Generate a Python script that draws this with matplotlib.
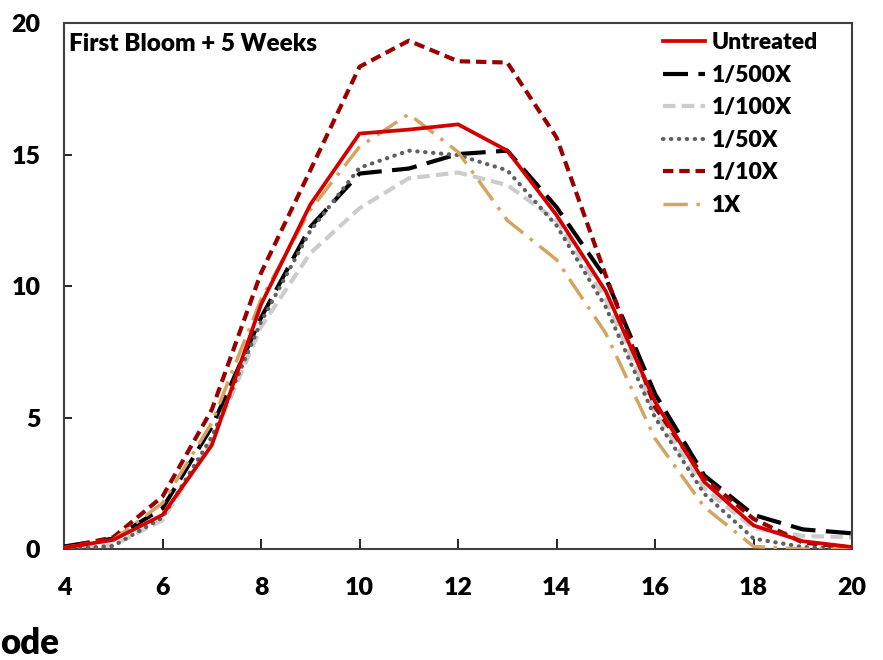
import matplotlib
matplotlib.use('Agg')
import matplotlib.pyplot as plt

plt.rcParams['font.family'] = ['Lato', 'DejaVu Sans']
plt.rcParams['font.weight'] = 'heavy'

# Days / x positions
xVals = list(range(4, 21))

untreated = [0.05, 0.35, 1.3, 3.95, 9.3, 13.1, 15.8, 15.95, 16.15, 15.15, 12.7, 9.8, 5.6, 2.55, 0.9, 0.3, 0.08]
rate500 = [0.1, 0.4, 1.55, 4.65, 8.8, 12.25, 14.28, 14.47, 15.02, 15.15, 13.0, 10.3, 5.9, 2.8, 1.3, 0.75, 0.6]
rate100 = [0.0, 0.15, 1.1, 4.1, 8.45, 11.25, 12.96, 14.1, 14.32, 13.84, 12.5, 9.5, 5.2, 2.3, 0.8, 0.5, 0.45]
rate50 = [0.0, 0.12, 1.2, 4.27, 8.64, 12.1, 14.5, 15.15, 14.98, 14.4, 12.3, 9.2, 5.0, 2.1, 0.4, 0.08, 0.0]
rate10 = [0.05, 0.45, 2.0, 5.3, 10.5, 14.4, 18.34, 19.33, 18.55, 18.5, 15.65, 10.4, 5.4, 2.7, 1.15, 0.25, 0.05]
rate1 = [0.05, 0.35, 1.75, 4.8, 9.5, 12.9, 15.3, 16.54, 15.1, 12.5, 11.0, 8.2, 4.2, 1.6, 0.1, 0.0, 0.0]

seriesNames = ['Untreated', '1/500X', '1/100X', '1/50X', '1/10X', '1X']

fig = plt.figure(figsize=(8.83, 6.6), dpi=100)
ax = fig.add_axes([0.0725, 0.168, 0.8925, 0.797])

ax.plot(xVals, rate500, color='black', lw=3, linestyle=(0, (6, 2.5)), label=seriesNames[1], zorder=3)
ax.plot(xVals, rate100, color='#cccccc', lw=3, linestyle=(0, (3, 1.5)), label=seriesNames[2], zorder=2)
ax.plot(xVals, rate50, color='#606060', lw=3, linestyle=(0, (0.1, 1.8)), dash_capstyle='round', label=seriesNames[3], zorder=3)
ax.plot(xVals, rate10, color='#990000', lw=3, linestyle=(0, (2.5, 1.4)), label=seriesNames[4], zorder=3)
ax.plot(xVals, rate1, color='#d4a462', lw=2.5, linestyle=(0, (7, 2.5, 1, 2.5)), label=seriesNames[5], zorder=3)
ax.plot(xVals, untreated, color='#d40000', lw=2.7, label=seriesNames[0], zorder=4)

ax.set_xlim(4, 20)
ax.set_ylim(0, 20)
ax.set_xticks(range(4, 21, 2))
ax.set_yticks(range(0, 21, 5))
ax.tick_params(axis='x', direction='in', length=7, width=1.2, pad=20, labelsize=18)
ax.tick_params(axis='y', direction='in', length=6, width=1.2, pad=17, labelsize=18)
for spine in ax.spines.values():
    spine.set_color('#404040')
    spine.set_linewidth(1.5)

ax.text(0.006, 0.982, 'First Bloom + 5 Weeks', transform=ax.transAxes,
        ha='left', va='top', fontsize=17.5, fontweight='heavy')

# legend in the original order
handles, labels = ax.get_legend_handles_labels()
order = [labels.index(n) for n in seriesNames]
ax.legend([handles[i] for i in order], [labels[i] for i in order],
          loc='upper left', bbox_to_anchor=(652 / 883, 1 - 21 / 660),
          bbox_transform=fig.transFigure, frameon=False,
          prop={'weight': 'heavy', 'size': 16.5},
          handlelength=1.8, handletextpad=0.3, labelspacing=0.5, borderpad=0)

fig.text(0.0, 1 - 643 / 660, 'ode', ha='left', va='center', fontsize=25, fontweight='heavy')

fig.savefig('out.png', dpi=100)
